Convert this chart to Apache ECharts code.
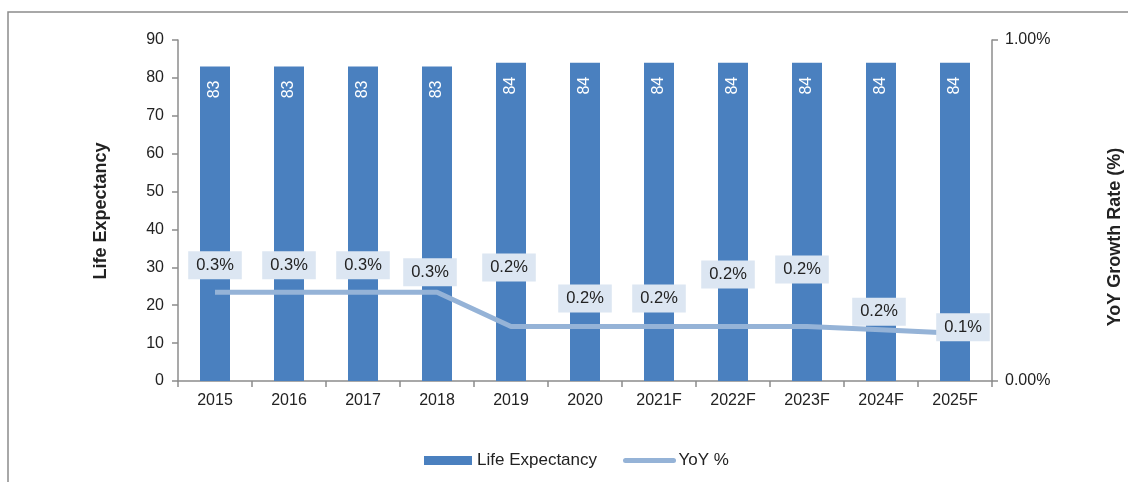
<!DOCTYPE html>
<html>
<head>
<meta charset="utf-8">
<script src="https://cdn.jsdelivr.net/npm/echarts@6/dist/echarts.min.js"></script>
<style>
  html, body { margin: 0; padding: 0; background: #fff; }
  #main { width: 1128px; height: 482px; }
</style>
</head>
<body>
<div id="main"></div>
<script>
// chart data
const years = ['2015', '2016', '2017', '2018', '2019', '2020', '2021F', '2022F', '2023F', '2024F', '2025F'];
const lifeExpectancy = [83, 83, 83, 83, 84, 84, 84, 84, 84, 84, 84];
const yoyGrowth = [0.26, 0.26, 0.26, 0.26, 0.16, 0.16, 0.16, 0.16, 0.16, 0.15, 0.14];
const yoyLabels = ['0.3%', '0.3%', '0.3%', '0.3%', '0.2%', '0.2%', '0.2%', '0.2%', '0.2%', '0.2%', '0.1%'];

// where each growth label sits relative to its point (px)
const labelShift = [[0, -27], [0, -27], [0, -27], [-7, -20], [-2, -59], [0, -28], [0, -28], [-5, -52], [-5, -57], [-2, -18], [8, -6]];

const font = 'Liberation Sans, Arial, sans-serif';
const textColor = '#222';
const axisColor = '#8c8c8c';

let myChart = echarts.init(document.getElementById('main'));

myChart.setOption({
  animation: false,
  textStyle: { fontFamily: font },
  grid: { left: 178, right: 136, top: 40, bottom: 101 },
  legend: {
    left: 424,
    top: 452,
    padding: 0,
    itemWidth: 48,
    itemHeight: 9,
    itemGap: 26,
    textStyle: { fontSize: 17, color: textColor, fontFamily: font },
    data: [
      { name: 'Life Expectancy', icon: 'rect' },
      { name: 'YoY %', itemStyle: { opacity: 0 }, lineStyle: { width: 5, cap: 'round' } }
    ]
  },
  graphic: [
    {
      type: 'rect',
      shape: { x: 8, y: 12, width: 1300, height: 600 },
      style: { fill: 'none', stroke: axisColor, lineWidth: 1.5 },
      silent: true
    },
    {
      type: 'text',
      x: 101, y: 211,
      rotation: Math.PI / 2,
      style: {
        text: 'Life Expectancy', font: 'bold 18px ' + font, fill: textColor,
        align: 'center', verticalAlign: 'middle'
      }
    },
    {
      type: 'text',
      x: 1115, y: 237,
      rotation: Math.PI / 2,
      style: {
        text: 'YoY Growth Rate (%)', font: 'bold 18px ' + font, fill: textColor,
        align: 'center', verticalAlign: 'middle'
      }
    }
  ],
  xAxis: {
    type: 'category',
    data: years,
    axisLine: { lineStyle: { color: axisColor, width: 1.5 } },
    axisTick: { show: true, length: 6, lineStyle: { color: axisColor, width: 1.5 } },
    axisLabel: { color: textColor, fontSize: 16, margin: 12 }
  },
  yAxis: [
    {
      type: 'value',
      min: 0, max: 90, interval: 10,
      axisLine: { show: true, lineStyle: { color: axisColor, width: 1.5 } },
      axisTick: { show: true, length: 6, lineStyle: { color: axisColor, width: 1.5 } },
      axisLabel: { color: textColor, fontSize: 16, margin: 14 },
      splitLine: { show: false }
    },
    {
      type: 'value',
      min: 0, max: 1, interval: 1,
      position: 'right',
      axisLine: { show: true, lineStyle: { color: axisColor, width: 1.5 } },
      axisTick: { show: true, length: 6, lineStyle: { color: axisColor, width: 1.5 } },
      axisLabel: {
        color: textColor, fontSize: 16, margin: 13,
        formatter: v => v.toFixed(2) + '%'
      },
      splitLine: { show: false }
    }
  ],
  series: [
    {
      name: 'Life Expectancy',
      type: 'bar',
      data: lifeExpectancy,
      barWidth: 30,
      itemStyle: { color: '#4a80bf' },
      label: {
        show: true,
        position: 'insideTop',
        distance: 14,
        rotate: 90,
        align: 'right',
        verticalAlign: 'middle',
        color: '#fff',
        fontSize: 16,
        fontFamily: font
      }
    },
    {
      name: 'YoY %',
      type: 'line',
      yAxisIndex: 1,
      data: yoyGrowth.map((v, i) => ({
        value: v,
        label: { offset: labelShift[i] }
      })),
      symbol: 'circle',
      symbolSize: 0.1,
      lineStyle: { color: '#95b3d7', width: 5 },
      itemStyle: { color: '#95b3d7' },
      label: {
        show: true,
        position: 'inside',
        formatter: p => yoyLabels[p.dataIndex],
        backgroundColor: '#dce6f2',
        padding: [6, 8, 5, 8],
        color: textColor,
        fontSize: 16.5,
        fontFamily: font
      },
      z: 3
    }
  ]
});
</script>
</body>
</html>
